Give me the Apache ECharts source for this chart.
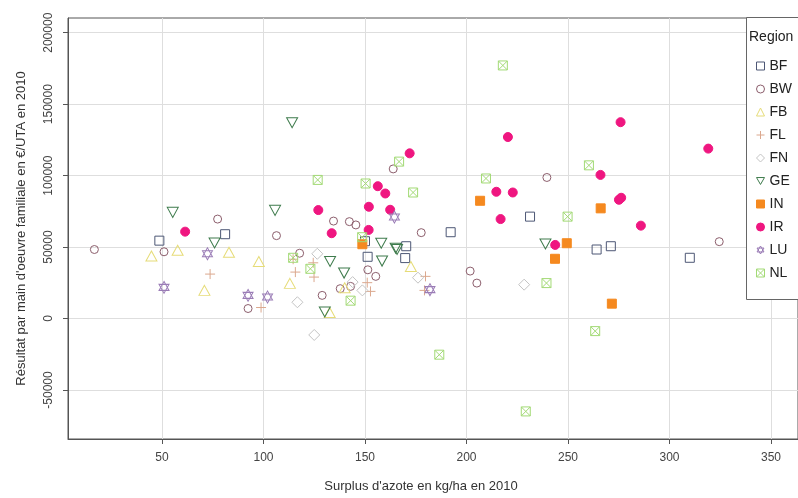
<!DOCTYPE html>
<html><head><meta charset="utf-8">
<script src="https://cdn.jsdelivr.net/npm/echarts@6/dist/echarts.min.js"></script>
<style>html,body{margin:0;padding:0;background:#fff}#c{width:798px;height:498px}</style>
</head><body><div id="c"></div><script>
const regions = ['BF','BW','FB','FL','FN','GE','IN','IR','LU','NL'];
const BF = [[48.7,54500],[81.1,59000],[150,54100],[151.3,43200],[170.3,50600],[169.8,42300],[192.2,60400],[231.3,71300],[264.1,48300],[271.1,50600],[310,42500]];
const BW = [[16.7,48300],[51,46700],[77.4,69600],[92.4,7000],[106.4,58000],[117.8,45700],[128.9,16200],[134.5,68200],[137.8,20900],[142.3,67800],[142.9,22500],[145.5,65500],[151.4,34100],[155.3,29500],[163.9,104700],[177.7,60100],[201.8,33200],[205.1,24800],[239.6,98700],[324.5,53800]];
const FB = [[44.8,43700],[57.7,47800],[70.9,19700],[83,46400],[97.7,39900],[113,24600],[132.6,4200],[140,21500],[172.6,36400]];
const FL = [[73.7,31100],[98.8,7700],[114.6,41500],[115.7,32500],[124.5,39000],[124.9,29000],[151.1,25100],[152.7,19000],[179.3,19700],[179.8,29500]];
const FN = [[116.7,11400],[125,-11500],[126.5,45300],[143.9,25500],[148.7,19700],[176.1,28600],[228.4,23700]];
const GE = [[55.3,74300],[75.9,52900],[105.7,75700],[114.1,137000],[130.2,4600],[132.8,39900],[139.7,31800],[158,52700],[158.4,40200],[165.1,49200],[165.8,48300],[238.9,52200]];
const IN = [[148.7,52000],[206.7,82400],[243.6,41800],[249.4,52700],[266.1,77100],[271.6,10400]];
const IR = [[61.4,60800],[127,75900],[133.6,59700],[151.8,62000],[151.9,78200],[156.3,92600],[160,87500],[162.4,76100],[172,115600],[214.7,88700],[216.8,69600],[220.4,127000],[222.8,88200],[243.7,51500],[266,100500],[275.1,83100],[276.2,84500],[275.9,137400],[285.9,65000],[319.1,118900]];
const LU = [[51,21800],[72.4,45300],[92.4,16200],[102,15100],[164.5,71000],[182,20200]];
const NL = [[114.6,42500],[123.1,34800],[126.7,97000],[142.9,12500],[148.6,56900],[150.3,94500],[166.8,109800],[173.7,88200],[186.6,-25300],[209.6,98000],[217.9,177100],[229.2,-65000],[239.4,24800],[249.8,71300],[260.3,107200],[263.4,-8800]];
const xTicks = [50,100,150,200,250,300,350];
const yTicks = [-50000,0,50000,100000,150000,200000];
const xTitle = "Surplus d'azote en kg/ha en 2010";
const yTitle = "Résultat par main d'oeuvre familiale en €/UTA en 2010";
const legendTitle = 'Region';

const seriesData = {BF, BW, FB, FL, FN, GE, IN, IR, LU, NL};
const T = 'rgba(0,0,0,0)';
const styles = {
  BF: {symbol:'rect', size:[9,9], fill:T, stroke:'#4d5775'},
  BW: {symbol:'circle', size:8, fill:T, stroke:'#8c5e6c'},
  FB: {symbol:'triangle', size:[11,10], fill:T, stroke:'#e6dc78'},
  FL: {symbol:'path://M5,0L5,10M0,5L10,5', size:10, fill:T, stroke:'#dba88e'},
  FN: {symbol:'diamond', size:[11,11], fill:T, stroke:'#c4c4c4'},
  GE: {symbol:'path://M0,0L10,0L5,8.66Z', size:[11,10], fill:T, stroke:'#3e7b4c'},
  IN: {symbol:'rect', size:[9,9], fill:'#f5891f', stroke:'#f5891f'},
  IR: {symbol:'circle', size:9, fill:'#ef1680', stroke:'#ef1680'},
  LU: {symbol:'path://M5,0L10,8.66L0,8.66ZM0,2.887L10,2.887L5,11.547Z', size:[10,12], fill:T, stroke:'#9a7cb6'},
  NL: {symbol:'path://M0,0L10,0L10,10L0,10ZM0,0L10,10M10,0L0,10', size:[9,9], fill:T, stroke:'#a3da76'}
};

const font = 'Liberation Sans, Arial, sans-serif';
const chart = echarts.init(document.getElementById('c'), null, {renderer:'canvas'});
chart.setOption({
  animation:false,
  backgroundColor:'#fff',
  grid:{left:68, right:-14, top:18, bottom:57, show:true, borderColor:'#555', borderWidth:1, backgroundColor:'transparent'},
  xAxis:{type:'value', min:3.7, max:363.3,
    name:xTitle, nameLocation:'middle', nameGap:41,
    nameTextStyle:{fontFamily:font, fontSize:13, color:'#333', padding:[0,24,0,0]},
    axisLine:{show:true, onZero:false, lineStyle:{color:'#555', width:1}},
    axisTick:{show:true, customValues:xTicks, length:5, lineStyle:{color:'#555'}},
    axisLabel:{customValues:xTicks, margin:13, fontFamily:font, fontSize:12, color:'#444', formatter:v => String(v)},
    splitLine:{show:true, lineStyle:{color:'#dedede', width:1}}
  },
  yAxis:{type:'value', min:-84300, max:210300,
    name:yTitle, nameLocation:'middle', nameGap:40,
    nameTextStyle:{fontFamily:font, fontSize:13, color:'#333'},
    axisLine:{show:true, onZero:false, lineStyle:{color:'#555', width:1}},
    axisTick:{show:true, customValues:yTicks, length:5, lineStyle:{color:'#555'}},
    axisLabel:{customValues:yTicks, rotate:90, margin:13, fontFamily:font, fontSize:12, color:'#444', formatter:v => String(v)},
    splitLine:{show:true, lineStyle:{color:'#dedede', width:1}}
  },
  legend:{orient:'vertical', left:751, top:54, itemWidth:8, itemHeight:8, itemGap:9, z:20,
    data:regions,
    textStyle:{fontFamily:font, fontSize:14, color:'#222', lineHeight:14},
    itemStyle:{borderWidth:1}},
  graphic:[
    {type:'rect', z:10, shape:{x:746.5, y:17.5, width:80, height:282}, style:{fill:'#fff', stroke:'#666', lineWidth:1}},
    {type:'text', z:11, x:749, y:37, style:{text:legendTitle, font:'14px ' + font, fill:'#222', verticalAlign:'middle'}}
  ],
  series: regions.map(r => ({
    type:'scatter', name:r, data:seriesData[r],
    symbol:styles[r].symbol, symbolSize:styles[r].size,
    itemStyle:{color:styles[r].fill, borderColor:styles[r].stroke, borderWidth:1, opacity:1},
    emphasis:{disabled:true}
  }))
});
</script></body></html>
